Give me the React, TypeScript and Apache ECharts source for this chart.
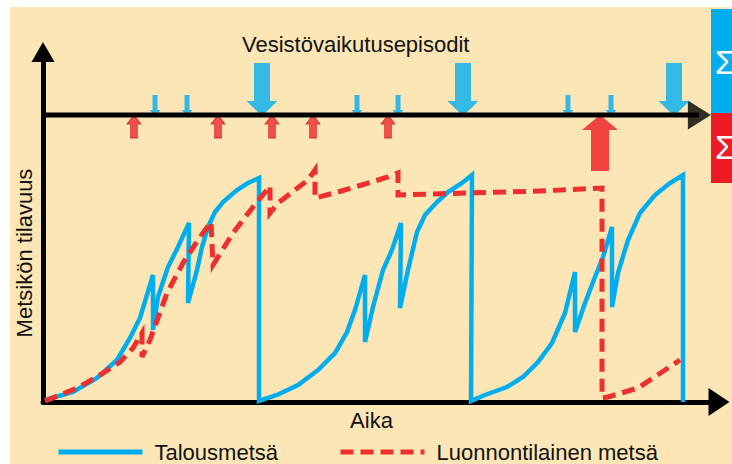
import React, { useEffect, useRef } from 'react';
import * as echarts from 'echarts';

// Schematic units: time (x) 0..169, stand volume (y) 0..175
const talousmetsa: [number, number][] = [
  [0.5, 1], [7.5, 5], [13.5, 12], [18.5, 21], [21.75, 32], [24.25, 42], [27.5, 63.5],
  [27.5, 36], [28.75, 52.5], [31.25, 67.5], [33.75, 77.5], [36.5, 89.5],
  [36.25, 49.5], [38.5, 66], [39.75, 77.5], [41.25, 87.5], [43, 95], [45, 100],
  [48.5, 106], [51.25, 109.5], [54, 112], [54, 0.5],
  [58.5, 3.5], [63.75, 8.5], [68.75, 16], [73, 24.5], [76, 35], [78, 46], [80.5, 63.5],
  [80.5, 30], [82.5, 47.5], [85, 66], [87.25, 76], [89.5, 89.5],
  [89.25, 47], [91.25, 66], [93.5, 85], [95.5, 93.5], [98.5, 100], [101.25, 105],
  [104.75, 109.5], [107.25, 113.5], [107, 0.5],
  [110.5, 3.5], [116, 7.5], [120, 12.5], [123.75, 20], [127.25, 29.5], [130.5, 44.5], [133, 65],
  [133, 35], [135.5, 49.5], [138, 62.5], [140, 72.5], [142.25, 87.5],
  [142.25, 47.5], [143.75, 64.5], [146.25, 81], [149.25, 94.5], [153, 103.5],
  [156.75, 109.5], [160, 113.5], [160, 0],
];

const luonnontilainen: [number, number][] = [
  [0.5, 0.5], [8.5, 7], [14.25, 13.5], [19.25, 20], [22.5, 27], [24.75, 34.5],
  [24.75, 22.5], [26.75, 31], [31, 54.5], [35, 69.5], [39.25, 82.5], [42, 90],
  [42.5, 68.5], [47.5, 84.5], [52.5, 97.5], [56.75, 108],
  [56.75, 94.5], [58.75, 99.5], [66.25, 111], [68, 116],
  [68, 102], [73.75, 105], [86.25, 112.5], [88.75, 114.5],
  [88.75, 103.5], [105.75, 104.5], [124.25, 105.5], [139.75, 107],
  [139.75, 2], [141.25, 2.5], [148.75, 7], [155.5, 16], [159.25, 21],
];

const episodeLevel = 143.5;
const episodeAxisEnd = 164;
const smallBlueEpisodes = [28, 36, 78.5, 88.75, 131.25, 142];
const largeBlueEpisodes = [54.75, 105, 157.75];
const smallRedEpisodes = [22.75, 43.75, 57.25, 67.5, 86.25];
const largeRedEpisodes = [139.25];

const seriesNames = ['Talousmetsä', 'Luonnontilainen metsä'];
const titleText = 'Vesistövaikutusepisodit';
const xName = 'Aika';
const yName = 'Metsikön tilavuus';

const FONT = '"Liberation Sans", Arial, sans-serif';
const BLUE = '#00AEEF';
const RED = '#EE2F2E';

const smallDown = 'path://M3,0L8,0L8,15L11,15L5.5,21L0,15L3,15Z';
const bigDown = 'path://M7.5,0L23.5,0L23.5,38L31,38L15.5,53L0,38L7.5,38Z';
const smallUp = 'path://M7,0L14,9L10.5,9L10.5,23L3.5,23L3.5,9L0,9Z';
const bigUp = 'path://M18,0L36,15L27,15L27,56L9,56L9,15L0,15Z';

const App: React.FC = () => {
  const ref = useRef<HTMLDivElement>(null);

  useEffect(() => {
    if (!ref.current) return;
    const chart = echarts.init(ref.current, undefined, { renderer: 'svg' });
    const atLevel = (xs: number[]) => xs.map((x) => [x, episodeLevel]);

    chart.setOption({
      animation: false,
      backgroundColor: '#ffffff',
      title: {
        text: titleText,
        left: 242,
        top: 33,
        padding: 0,
        textStyle: { fontFamily: FONT, fontSize: 22, fontWeight: 'normal', color: '#111' },
      },
      legend: {
        data: seriesNames,
        left: 56,
        top: 441,
        itemWidth: 84,
        itemHeight: 14,
        itemGap: 60,
        padding: 0,
        itemStyle: { opacity: 0, borderWidth: 0 },
        lineStyle: { width: 5 },
        textStyle: { fontFamily: FONT, fontSize: 22, color: '#111', padding: [0, 0, 0, 7] },
      },
      grid: { left: 43, top: 52, width: 676, height: 350, containLabel: false },
      xAxis: {
        type: 'value',
        min: 0,
        max: 169,
        name: xName,
        nameLocation: 'middle',
        nameGap: 7,
        nameTextStyle: {
          fontFamily: FONT, fontSize: 22, color: '#111', verticalAlign: 'top',
          padding: [0, 19, 0, 0],
        },
        axisLine: {
          show: true,
          symbol: ['none', 'triangle'],
          symbolSize: [28, 21],
          lineStyle: { color: '#000', width: 5 },
        },
        axisTick: { show: false },
        axisLabel: { show: false },
        splitLine: { show: false },
      },
      yAxis: {
        type: 'value',
        min: 0,
        max: 175,
        name: yName,
        nameLocation: 'middle',
        nameGap: 8,
        nameRotate: 90,
        nameTextStyle: {
          fontFamily: FONT, fontSize: 22, color: '#111',
          padding: [0, 52, 0, 0],
        },
        axisLine: {
          show: true,
          symbol: ['none', 'triangle'],
          symbolSize: [23, 20],
          lineStyle: { color: '#000', width: 5 },
        },
        axisTick: { show: false },
        axisLabel: { show: false },
        splitLine: { show: false },
      },
      graphic: [
        { type: 'rect', z: -10, silent: true, shape: { x: 10, y: 7, width: 722, height: 457 }, style: { fill: '#FCE6B6' } },
        { type: 'rect', z: 10, silent: true, shape: { x: 711, y: 9, width: 21, height: 104 }, style: { fill: BLUE } },
        { type: 'rect', z: 10, silent: true, shape: { x: 711, y: 113, width: 21, height: 70 }, style: { fill: '#ED1C24' } },
        { type: 'text', z: 11, silent: true, x: 715, y: 62, style: { text: 'Σ', fill: '#fff', font: `33px ${FONT}`, verticalAlign: 'middle' } },
        { type: 'text', z: 11, silent: true, x: 715, y: 147, style: { text: 'Σ', fill: '#fff', font: `33px ${FONT}`, verticalAlign: 'middle' } },
      ],
      series: [
        {
          name: 'episodeAxis',
          type: 'line',
          silent: true,
          symbol: 'none',
          data: [[0, episodeLevel], [episodeAxisEnd, episodeLevel]],
          lineStyle: { color: '#000', width: 5 },
        },
        {
          name: 'episodeAxisHead',
          type: 'scatter',
          silent: true,
          symbol: 'triangle',
          symbolSize: [29, 23],
          symbolRotate: -90,
          itemStyle: { color: '#000' },
          data: [[episodeAxisEnd + 0.1, episodeLevel]],
        },
        {
          name: seriesNames[0],
          type: 'line',
          symbol: 'none',
          showSymbol: false,
          data: talousmetsa,
          itemStyle: { color: BLUE },
          lineStyle: { color: BLUE, width: 4.5, join: 'miter', miterLimit: 4 },
        },
        {
          name: seriesNames[1],
          type: 'line',
          symbol: 'none',
          showSymbol: false,
          data: luonnontilainen,
          itemStyle: { color: RED },
          lineStyle: { color: RED, width: 5, type: [13, 7], cap: 'butt', join: 'miter', miterLimit: 4 },
        },
        {
          name: 'redSmall',
          type: 'scatter',
          silent: true,
          symbol: smallUp,
          symbolSize: [14, 23],
          symbolOffset: [0, 11.5],
          itemStyle: { color: '#EE2A2E', borderColor: '#C9181E', borderWidth: 0.8 },
          data: atLevel(smallRedEpisodes),
        },
        {
          name: 'redLarge',
          type: 'scatter',
          silent: true,
          symbol: bigUp,
          symbolSize: [36, 56],
          symbolOffset: [0, 28],
          itemStyle: { color: '#ED1C24' },
          data: atLevel(largeRedEpisodes),
        },
        {
          name: 'blueSmall',
          type: 'scatter',
          silent: true,
          symbol: smallDown,
          symbolSize: [11, 21],
          symbolOffset: [0, -9.5],
          itemStyle: { color: BLUE },
          data: atLevel(smallBlueEpisodes),
        },
        {
          name: 'blueLarge',
          type: 'scatter',
          silent: true,
          symbol: bigDown,
          symbolSize: [31, 53],
          symbolOffset: [0, -25.5],
          itemStyle: { color: BLUE },
          data: atLevel(largeBlueEpisodes),
        },
      ],
    });

    return () => chart.dispose();
  }, []);

  return (
    <div
      ref={ref}
      style={{ position: 'fixed', left: 0, top: 0, width: 732, height: 464 }}
    />
  );
};

export default App;
